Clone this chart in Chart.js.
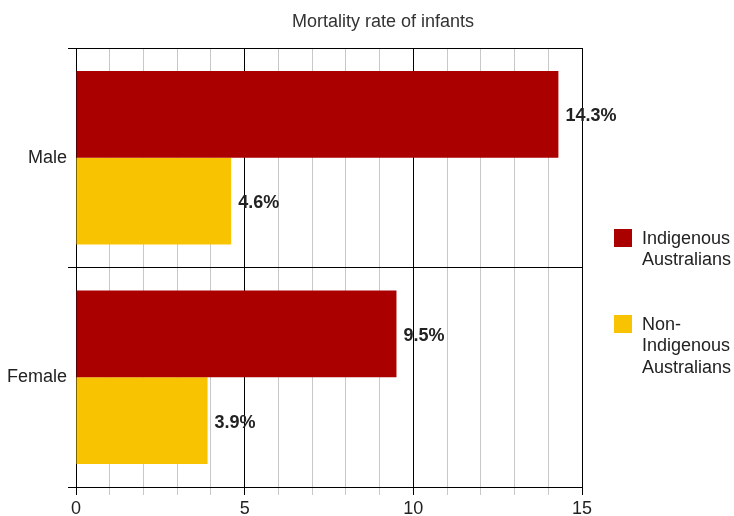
<!DOCTYPE html>
<html>
<head>
<meta charset="utf-8">
<title>Mortality rate of infants</title>
<script src="https://cdn.jsdelivr.net/npm/chart.js@4.4.1/dist/chart.umd.min.js"></script>
<style>
  body { margin: 0; background: #fff; }
  #chart { display: block; }
</style>
</head>
<body>
<canvas id="chart" width="734" height="516"></canvas>
<script>
const chartTitle = "Mortality rate of infants";
const categories = ["Male", "Female"];
const seriesNames = ["Indigenous Australians", "Non-Indigenous Australians"];
const legendLines = [["Indigenous", "Australians"], ["Non-", "Indigenous", "Australians"]];
const indigenous = [14.3, 9.5];
const nonIndigenous = [4.6, 3.9];
const xTicks = [0, 5, 10, 15];

const colors = ["#aa0000", "#f8c300"];
const FONT = "'Liberation Sans', Arial, sans-serif";
const TEXT = "#222";


// value labels at the end of every bar
const barLabels = {
  id: "barLabels",
  afterDatasetsDraw(chart) {
    const ctx = chart.ctx;
    ctx.save();
    ctx.font = "bold 18px " + FONT;
    ctx.fillStyle = TEXT;
    ctx.textAlign = "left";
    ctx.textBaseline = "middle";
    chart.data.datasets.forEach((ds, i) => {
      chart.getDatasetMeta(i).data.forEach((bar, j) => {
        ctx.fillText(ds.data[j].toFixed(1) + "%", bar.x + 7, bar.y + 2);
      });
    });
    ctx.restore();
  }
};

// title + legend on the right
const sideBits = {
  id: "sideBits",
  afterDraw(chart) {
    const ctx = chart.ctx;
    ctx.save();
    ctx.fillStyle = "#333";
    ctx.font = "18px " + FONT;
    ctx.textAlign = "center";
    ctx.textBaseline = "middle";
    ctx.fillText(chartTitle, 383, 22);

    const tops = [229, 315];
    ctx.textAlign = "left";
    chart.data.datasets.forEach((ds, i) => {
      ctx.fillStyle = ds.backgroundColor;
      ctx.fillRect(614, tops[i], 18, 18);
      ctx.fillStyle = TEXT;
      legendLines[i].forEach((line, k) => {
        ctx.fillText(line, 642, tops[i] + 10 + k * 21.5);
      });
    });
    ctx.restore();
  }
};


new Chart(document.getElementById("chart"), {
  type: "bar",
  data: {
    labels: categories,
    datasets: [
      { label: seriesNames[0], data: indigenous, backgroundColor: colors[0] },
      { label: seriesNames[1], data: nonIndigenous, backgroundColor: colors[1] }
    ]
  },
  options: {
    indexAxis: "y",
    responsive: false,
    animation: false,
    layout: { padding: { top: 48, right: 152, left: 0, bottom: 0 } },
    datasets: {
      bar: { barPercentage: 1, categoryPercentage: 0.79, borderWidth: 0 }
    },
    plugins: {
      legend: { display: false },
      title: { display: false },
      tooltip: { enabled: false }
    },
    scales: {
      x: {
        min: 0,
        max: 15,
        afterFit(scale) { scale.height = 29; },
        afterBuildTicks(scale) {
          scale.ticks = [];
          for (let v = 0; v <= 15; v++) scale.ticks.push({ value: v });
        },
        ticks: {
          autoSkip: false,
          maxRotation: 0,
          padding: 3,
          color: TEXT,
          font: { family: FONT, size: 18 },
          callback: v => xTicks.includes(v) ? v : ""
        },
        grid: {
          lineWidth: 1,
          tickLength: 8,
          color: c => xTicks.includes(c.tick.value) ? "#000" : "#c8c8c8",
          tickColor: c => xTicks.includes(c.tick.value) ? "#000" : "#c8c8c8"
        },
        border: { color: "#000", width: 1 }
      },
      y: {
        afterFit(scale) { scale.width = 76; },
        ticks: {
          padding: 1,
          color: TEXT,
          font: { family: FONT, size: 18 }
        },
        grid: {
          offset: true,
          color: "#000",
          tickLength: 8
        },
        border: { color: "#000", width: 1 }
      }
    }
  },
  plugins: [barLabels, sideBits]
});
</script>
</body>
</html>
